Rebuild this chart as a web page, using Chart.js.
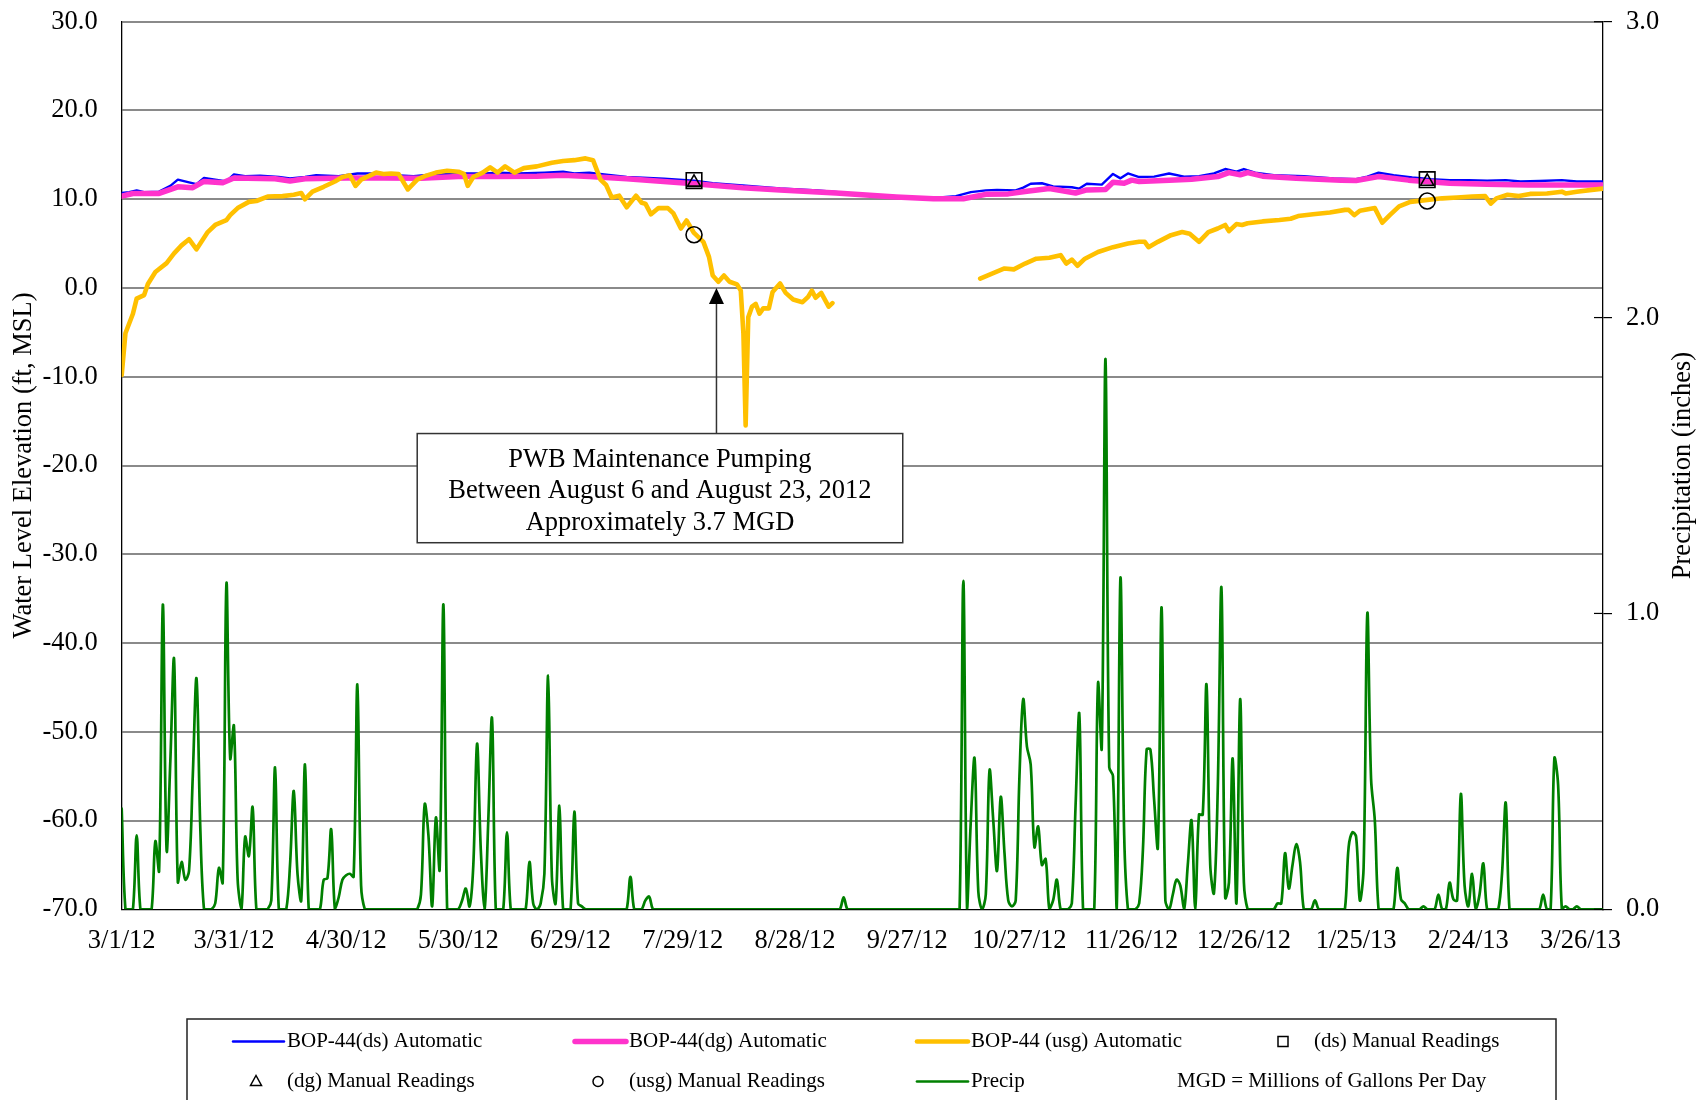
<!DOCTYPE html>
<html>
<head>
<meta charset="utf-8">
<title>BOP-44 Water Levels and Precipitation</title>
<script src="https://cdn.jsdelivr.net/npm/chart.js@4/dist/chart.umd.min.js"></script>
<style>
  html, body { margin: 0; padding: 0; background: #fff; }
  #wrap { width: 1706px; height: 1100px; position: relative; overflow: hidden; }
  canvas { display: block; }
</style>
</head>
<body>
<div id="wrap"><canvas id="chart" width="1706" height="1100"></canvas></div>
<script>
// All x positions are day offsets counted from 3/1/12 (day 0).
const xTickLabels = ['3/1/12', '3/31/12', '4/30/12', '5/30/12', '6/29/12', '7/29/12', '8/28/12',
  '9/27/12', '10/27/12', '11/26/12', '12/26/12', '1/25/13', '2/24/13', '3/26/13'];
const xTickStepDays = 30;
const xMaxDay = 396;

// Daily precipitation (inches), one value per day starting 3/1/12.
const precipDaily = [
  0.34, 0, 0, 0, 0.25, 0, 0, 0, 0, 0.23,
  0.13, 1.03, 0.20, 0.50, 0.845, 0.093, 0.16, 0.10, 0.13, 0.45,
  0.78, 0.28, 0, 0, 0, 0.02, 0.14, 0.09, 1.10, 0.51,
  0.62, 0.10, 0, 0.245, 0.18, 0.345, 0, 0, 0, 0,
  0.03, 0.48, 0, 0, 0, 0.15, 0.40, 0.12, 0.03, 0.49,
  0, 0, 0, 0, 0.10, 0.105, 0.27, 0, 0.04, 0.10,
  0.115, 0.12, 0.11, 0.76, 0.08, 0, 0, 0, 0, 0,
  0, 0, 0, 0, 0, 0, 0, 0, 0, 0,
  0.05, 0.355, 0.25, 0.01, 0.31, 0.135, 1.03, 0, 0, 0,
  0, 0.03, 0.07, 0.01, 0.15, 0.56, 0.20, 0, 0.30, 0.645,
  0, 0, 0, 0.26, 0, 0, 0, 0, 0, 0.16,
  0.02, 0, 0.02, 0.12, 0.79, 0.11, 0.02, 0.35, 0, 0,
  0, 0.33, 0.02, 0.01, 0, 0, 0, 0, 0, 0,
  0, 0, 0, 0, 0, 0, 0.11, 0, 0, 0,
  0.03, 0.043, 0, 0, 0, 0, 0, 0, 0, 0,
  0, 0, 0, 0, 0, 0, 0, 0, 0, 0,
  0, 0, 0, 0, 0, 0, 0, 0, 0, 0,
  0, 0, 0, 0, 0, 0, 0, 0, 0, 0,
  0, 0, 0, 0, 0, 0, 0, 0, 0, 0,
  0, 0, 0, 0.04, 0, 0, 0, 0, 0, 0,
  0, 0, 0, 0, 0, 0, 0, 0, 0, 0,
  0, 0, 0, 0, 0, 0, 0, 0, 0, 0,
  0, 0, 0, 0, 0, 1.11, 0, 0.30, 0.51, 0.06,
  0, 0.05, 0.47, 0.30, 0.13, 0.38, 0.19, 0.03, 0.01, 0.03,
  0.45, 0.71, 0.55, 0.49, 0.21, 0.28, 0.15, 0.17, 0, 0.03,
  0.10, 0, 0, 0, 0.02, 0.35, 0.66, 0, 0, 0,
  0, 0.765, 0.545, 1.86, 0.48, 0.45, 0, 1.12, 0.25, 0,
  0, 0, 0.02, 0.20, 0.54, 0.54, 0.37, 0.21, 1.02, 0.03,
  0, 0.05, 0.10, 0.08, 0, 0.15, 0.30, 0, 0.32, 0.32,
  0.76, 0.15, 0.055, 0.40, 1.086, 0.04, 0.09, 0.51, 0.02, 0.71,
  0.09, 0, 0, 0, 0, 0, 0, 0, 0, 0.02,
  0.02, 0.19, 0.07, 0.15, 0.22, 0.16, 0, 0, 0, 0.03,
  0, 0, 0, 0, 0, 0, 0, 0, 0.21, 0.26,
  0.245, 0.03, 0.14, 1.0, 0.44, 0.30, 0, 0, 0, 0,
  0, 0.14, 0.034, 0.02, 0, 0, 0, 0, 0.01, 0,
  0, 0, 0.05, 0, 0, 0.09, 0.034, 0.03, 0.39, 0.08,
  0.01, 0.12, 0, 0.05, 0.155, 0, 0, 0, 0, 0.12,
  0.36, 0, 0, 0, 0, 0, 0, 0, 0, 0,
  0.05, 0, 0, 0.51, 0.42, 0, 0.01, 0, 0, 0.01,
  0, 0, 0, 0, 0, 0, 0
];

// BOP-44(ds) automatic transducer, water level (ft, MSL)
const dsDays = [0, 2, 4, 6, 10, 13, 15, 18, 20, 22, 25, 28, 30, 33, 37, 42, 45, 49, 52, 58,
  63, 68, 73, 78, 83, 90, 97, 101, 106, 113, 118, 121, 125, 129, 135, 145, 153, 158, 166, 176,
  186, 197, 207, 213, 217, 223, 227, 231, 234, 239, 241, 243, 246, 249, 254, 256, 258, 262, 265, 267,
  269, 272, 276, 280, 284, 288, 292, 295, 298, 300, 303, 308, 316, 324, 330, 333, 336, 340, 345, 350,
  355, 360, 365, 370, 374, 379, 385, 389, 396];
const dsLevels = [10.7, 10.8, 11.0, 10.8, 10.85, 11.5, 12.2, 11.9, 11.7, 12.4, 12.2, 12.0, 12.8, 12.6, 12.65, 12.5, 12.35, 12.5, 12.7, 12.6,
  12.9, 12.9, 12.7, 12.6, 12.8, 12.9, 12.9, 13.0, 12.9, 13.0, 13.1, 12.9, 13.0, 12.8, 12.5, 12.3, 12.1, 11.8, 11.55, 11.2,
  11.0, 10.6, 10.35, 10.15, 10.15, 10.35, 10.8, 11.0, 11.05, 11.0, 11.3, 11.75, 11.8, 11.45, 11.35, 11.2, 11.75, 11.65, 12.85, 12.35,
  12.9, 12.5, 12.55, 12.9, 12.55, 12.6, 12.9, 13.4, 13.1, 13.4, 13.0, 12.7, 12.6, 12.35, 12.25, 12.55, 13.0, 12.7, 12.45, 12.25,
  12.15, 12.15, 12.1, 12.15, 12.0, 12.05, 12.15, 12.0, 12.0];

// BOP-44(dg) automatic transducer, water level (ft, MSL)
const dgDays = [0, 3, 10, 15, 19, 22, 27, 30, 41, 45, 49, 60, 70, 80, 90, 100, 111, 118, 125, 135,
  153, 166, 176, 191, 207, 217, 225, 231, 237, 242, 248, 255, 258, 263, 265, 268, 270, 272, 280, 286,
  293, 296, 299, 301, 305, 314, 326, 330, 336, 344, 355, 365, 376, 386, 396];
const dgLevels = [10.35, 10.65, 10.65, 11.4, 11.3, 12.0, 11.85, 12.4, 12.3, 12.05, 12.3, 12.4, 12.4, 12.35, 12.55, 12.55, 12.6, 12.7, 12.55, 12.3,
  11.75, 11.3, 11.05, 10.7, 10.25, 10.05, 10.05, 10.55, 10.6, 10.9, 11.2, 10.7, 11.05, 11.1, 11.9, 11.8, 12.15, 12.0, 12.15, 12.25,
  12.55, 13.0, 12.75, 13.0, 12.6, 12.35, 12.15, 12.1, 12.55, 12.15, 11.8, 11.7, 11.6, 11.6, 11.6];

// BOP-44 (usg) automatic transducer, water level (ft, MSL); null marks the record gap
const usgDays = [0, 1, 3, 4, 6, 7, 9, 12, 14, 16, 18, 20, 21, 23, 25, 28, 29, 31, 34, 36,
  39, 43, 46, 48, 49, 51, 54, 57, 59, 61, 62.5, 64, 66, 68, 70, 72, 74, 76.5, 79, 81,
  84, 87, 90, 91.5, 92.5, 94, 96.5, 98.5, 100.5, 102.5, 105, 107.5, 111, 115, 118, 121, 124, 126, 128, 129.5,
  131, 133, 135, 137.5, 139, 140, 141.5, 143.5, 146, 147.5, 149.5, 151, 153, 155.5, 157, 158, 159.5, 161, 162.5, 164.5,
  165.5, 166.2, 166.8, 167.5, 168.5, 169.5, 170.5, 171.5, 173, 174, 176, 177.5, 179.5, 182, 183.5, 184.5, 185.5, 187, 189, 190,
  210,
  229.5, 232.5, 236, 238.5, 241.5, 244.5, 248, 251, 252.5, 254, 255.5, 257.5, 261, 265, 269, 272, 273.5, 274.5, 277, 280.5,
  283.5, 285.5, 288, 290.5, 293, 295, 296, 298, 299.5, 301, 305, 309.5, 312.5, 314.5, 318.5, 323, 327, 328, 329.5, 331,
  335, 337, 339, 341.5, 344.5, 348.5, 353, 357, 361, 364.5, 366, 367.5, 370.5, 373.5, 376.5, 381, 385, 386, 389, 393, 396];
const usgLevels = [-9.8, -5.1, -2.9, -1.2, -0.8, 0.45, 1.8, 2.8, 3.9, 4.8, 5.5, 4.35, 5.0, 6.3, 7.1, 7.65, 8.2, 9.0, 9.7, 9.8,
  10.3, 10.35, 10.5, 10.7, 10.0, 10.85, 11.4, 12.0, 12.5, 12.7, 11.5, 12.2, 12.6, 13.0, 12.85, 12.9, 12.85, 11.1, 12.2, 12.6,
  13.0, 13.2, 13.1, 12.85, 11.5, 12.5, 13.0, 13.6, 13.0, 13.7, 13.0, 13.5, 13.7, 14.1, 14.3, 14.4, 14.6, 14.4, 12.2, 11.6,
  10.2, 10.4, 9.1, 10.4, 9.6, 9.5, 8.3, 9.0, 9.0, 8.4, 6.7, 7.6, 6.2, 5.2, 3.5, 1.4, 0.7, 1.4, 0.7, 0.4,
  -0.3, -5.1, -15.5, -3.3, -2.1, -1.8, -2.9, -2.3, -2.3, -0.45, 0.5, -0.55, -1.3, -1.6, -1.0, -0.3, -1.1, -0.55, -2.1, -1.7,
  null,
  1.05, 1.6, 2.2, 2.1, 2.75, 3.3, 3.4, 3.7, 2.75, 3.2, 2.5, 3.3, 4.05, 4.6, 5.0, 5.2, 5.2, 4.6, 5.2, 5.95,
  6.3, 6.1, 5.2, 6.3, 6.7, 7.1, 6.4, 7.2, 7.1, 7.3, 7.5, 7.65, 7.8, 8.1, 8.3, 8.5, 8.8, 8.8, 8.2, 8.7,
  9.0, 7.35, 8.2, 9.2, 9.7, 9.9, 10.1, 10.2, 10.3, 10.35, 9.5, 10.1, 10.5, 10.35, 10.6, 10.65, 10.85, 10.65, 10.85, 11.05, 11.2];

// Manual water level readings (ft, MSL)
const manualDays = [153, 349];
const dsManualLevels = [12.1, 12.2];
const dgManualLevels = [11.9, 12.0];
const usgManualLevels = [6.0, 9.8];

const legendNote = 'MGD = Millions of Gallons Per Day';
const annotationLines = ['PWB Maintenance Pumping', 'Between August 6 and August 23, 2012', 'Approximately 3.7 MGD'];
// Callout anchored in data units: arrow tip and text box extent
const annotationAnchor = { arrowDay: 159, arrowLevel: 0, boxFromDay: 79, boxToDay: 208.8, boxTopLevel: -16.4, boxBottomLevel: -28.7 };

const SERIF = "'Liberation Serif', 'Times New Roman', Times, serif";

function toPoints(days, values) {
  return days.map((d, i) => ({ x: d, y: values[i] }));
}

const datasets = [
  {
    label: 'BOP-44(ds) Automatic', data: toPoints(dsDays, dsLevels), yAxisID: 'y',
    borderColor: '#0000FF', borderWidth: 2.4, pointRadius: 0, order: 4, legendKind: 'line'
  },
  {
    label: 'BOP-44(dg) Automatic', data: toPoints(dgDays, dgLevels), yAxisID: 'y',
    borderColor: '#FF33CC', borderWidth: 5.5, pointRadius: 0, order: 3, legendKind: 'line'
  },
  {
    label: 'BOP-44 (usg) Automatic', data: toPoints(usgDays, usgLevels), yAxisID: 'y',
    borderColor: '#FFC000', borderWidth: 4.6, pointRadius: 0, order: 2, spanGaps: false, legendKind: 'line'
  },
  {
    label: '(ds) Manual Readings', data: toPoints(manualDays, dsManualLevels), yAxisID: 'y',
    showLine: false, pointStyle: 'rect', pointRadius: 11, pointBorderColor: '#000',
    pointBackgroundColor: 'rgba(0,0,0,0)', pointBorderWidth: 1.6, borderColor: '#000', order: 1, legendKind: 'rect'
  },
  {
    label: '(dg) Manual Readings', data: toPoints(manualDays, dgManualLevels), yAxisID: 'y',
    showLine: false, pointStyle: 'triangle', pointRadius: 7.5, pointBorderColor: '#000',
    pointBackgroundColor: 'rgba(0,0,0,0)', pointBorderWidth: 1.6, borderColor: '#000', order: 0, legendKind: 'triangle'
  },
  {
    label: '(usg) Manual Readings', data: toPoints(manualDays, usgManualLevels), yAxisID: 'y',
    showLine: false, pointStyle: 'circle', pointRadius: 8, pointBorderColor: '#000',
    pointBackgroundColor: 'rgba(0,0,0,0)', pointBorderWidth: 1.6, borderColor: '#000', order: 1, legendKind: 'circle'
  },
  {
    label: 'Precip', data: precipDaily.map((v, d) => ({ x: d, y: v })), yAxisID: 'y2',
    borderColor: '#008000', borderWidth: 2.7, pointRadius: 0, tension: 0.35, order: 5, legendKind: 'line'
  }
];

// Legend slots: [dataset index or null for the note, column, row]
const legendSlots = [[0, 0, 0], [1, 1, 0], [2, 2, 0], [3, 3, 0], [4, 0, 1], [5, 1, 1], [6, 2, 1], [null, 3, 1]];

const overlayPlugin = {
  id: 'overlay',
  afterDraw(chart) {
    const ctx = chart.ctx;
    const xs = chart.scales.x, ys = chart.scales.y, y2 = chart.scales.y2;
    const area = chart.chartArea;
    ctx.save();

    // inner half of the precipitation tick marks
    ctx.strokeStyle = '#000';
    ctx.lineWidth = 1.2;
    y2.ticks.forEach(t => {
      const py = y2.getPixelForValue(t.value);
      ctx.beginPath();
      ctx.moveTo(area.right - 9, py);
      ctx.lineTo(area.right, py);
      ctx.stroke();
    });

    // right axis title, reading bottom to top
    ctx.fillStyle = '#000';
    ctx.font = '26.5px ' + SERIF;
    ctx.textAlign = 'center';
    ctx.textBaseline = 'middle';
    ctx.save();
    ctx.translate(1683, (area.top + area.bottom) / 2);
    ctx.rotate(-Math.PI / 2);
    ctx.fillText('Precipitation (inches)', 0, 0);
    ctx.restore();

    // pumping callout
    const a = annotationAnchor;
    const bx0 = xs.getPixelForValue(a.boxFromDay), bx1 = xs.getPixelForValue(a.boxToDay);
    const by0 = ys.getPixelForValue(a.boxTopLevel), by1 = ys.getPixelForValue(a.boxBottomLevel);
    const ax = xs.getPixelForValue(a.arrowDay), ay = ys.getPixelForValue(a.arrowLevel);
    ctx.strokeStyle = '#333';
    ctx.lineWidth = 1.5;
    ctx.beginPath();
    ctx.moveTo(ax, by0);
    ctx.lineTo(ax, ay + 14);
    ctx.stroke();
    ctx.fillStyle = '#000';
    ctx.beginPath();
    ctx.moveTo(ax, ay);
    ctx.lineTo(ax - 7.5, ay + 16);
    ctx.lineTo(ax + 7.5, ay + 16);
    ctx.closePath();
    ctx.fill();
    ctx.fillStyle = '#fff';
    ctx.fillRect(bx0, by0, bx1 - bx0, by1 - by0);
    ctx.strokeStyle = '#333';
    ctx.strokeRect(bx0, by0, bx1 - bx0, by1 - by0);
    ctx.fillStyle = '#000';
    ctx.font = '26.5px ' + SERIF;
    const cx = (bx0 + bx1) / 2, cy = (by0 + by1) / 2 + 3;
    annotationLines.forEach((line, i) => ctx.fillText(line, cx, cy + (i - 1) * 31.5));

    // legend
    const boxL = 187, boxT = 1019, boxR = 1556;
    ctx.strokeStyle = '#222';
    ctx.lineWidth = 1.5;
    ctx.beginPath();
    ctx.moveTo(boxL, 1102);
    ctx.lineTo(boxL, boxT);
    ctx.lineTo(boxR, boxT);
    ctx.lineTo(boxR, 1102);
    ctx.stroke();
    const colText = [287, 629, 971, 1314];
    const rowY = [1041.5, 1081.5];
    ctx.font = '21px ' + SERIF;
    ctx.textAlign = 'left';
    ctx.textBaseline = 'middle';
    legendSlots.forEach(([di, col, row]) => {
      const tx = colText[col], ty = rowY[row];
      if (di === null) {
        ctx.fillStyle = '#000';
        ctx.fillText(legendNote, 1177, ty);
        return;
      }
      const ds = chart.data.datasets[di];
      const mx = tx - 31;
      ctx.strokeStyle = ds.borderColor;
      ctx.lineWidth = ds.legendKind === 'line' ? ds.borderWidth : 1.5;
      ctx.beginPath();
      if (ds.legendKind === 'line') {
        ctx.lineCap = 'round';
        ctx.moveTo(tx - 54, ty);
        ctx.lineTo(tx - 3, ty);
      } else if (ds.legendKind === 'rect') {
        ctx.rect(mx - 5, ty - 5, 10, 10);
      } else if (ds.legendKind === 'triangle') {
        ctx.moveTo(mx, ty - 6);
        ctx.lineTo(mx - 5.5, ty + 4);
        ctx.lineTo(mx + 5.5, ty + 4);
        ctx.closePath();
      } else if (ds.legendKind === 'circle') {
        ctx.arc(mx, ty, 5, 0, Math.PI * 2);
      }
      ctx.stroke();
      ctx.fillStyle = '#000';
      ctx.fillText(ds.label, tx, ty);
    });
    ctx.restore();
  }
};

const tickFont = { family: SERIF, size: 26.5 };

// fixed scale boxes so the plot area lands at the intended place
function fixVertical(width) {
  return s => { s.width = width; s.paddingTop = 0; s.paddingBottom = 0; };
}

new Chart(document.getElementById('chart'), {
  type: 'line',
  data: { datasets },
  options: {
    responsive: false,
    devicePixelRatio: 1,
    animation: false,
    layout: { padding: { top: 21.7, left: 0, right: 0, bottom: 0 } },
    elements: { line: { borderJoinStyle: 'round', borderCapStyle: 'round' } },
    plugins: { legend: { display: false }, tooltip: { enabled: false } },
    scales: {
      x: {
        type: 'linear', min: 0, max: xMaxDay, bounds: 'data',
        afterBuildTicks: s => { s.ticks = xTickLabels.map((_, i) => ({ value: i * xTickStepDays })); },
        afterFit: s => { s.height = 190.7; s.paddingLeft = 0; s.paddingRight = 0; },
        grid: { display: false },
        border: { display: true, color: '#000', width: 1.3 },
        ticks: {
          autoSkip: false, maxRotation: 0, minRotation: 0, padding: 8, color: '#000', font: tickFont,
          callback: (v, i) => xTickLabels[i]
        }
      },
      y: {
        position: 'left', min: -70, max: 30,
        afterFit: fixVertical(121.7),
        grid: {
          color: c => (c.tick && c.tick.value === -70) ? 'rgba(0,0,0,0)' : '#8a8a8a',
          lineWidth: 2, drawTicks: false
        },
        border: { display: true, color: '#000', width: 1.3 },
        ticks: { stepSize: 10, padding: 24, color: '#000', font: tickFont, callback: v => v.toFixed(1) },
        title: {
          display: true, text: 'Water Level Elevation (ft, MSL)', color: '#000',
          font: tickFont, padding: { top: 8, bottom: 0 }
        }
      },
      y2: {
        position: 'right', min: 0, max: 3,
        afterFit: fixVertical(103),
        grid: { drawOnChartArea: false, drawTicks: true, tickLength: 9, color: '#000', lineWidth: 1.2 },
        border: { display: true, color: '#000', width: 1.3 },
        ticks: { stepSize: 1, padding: 14, color: '#000', font: tickFont, callback: v => v.toFixed(1) }
      }
    }
  },
  plugins: [overlayPlugin]
});
</script>
</body>
</html>
